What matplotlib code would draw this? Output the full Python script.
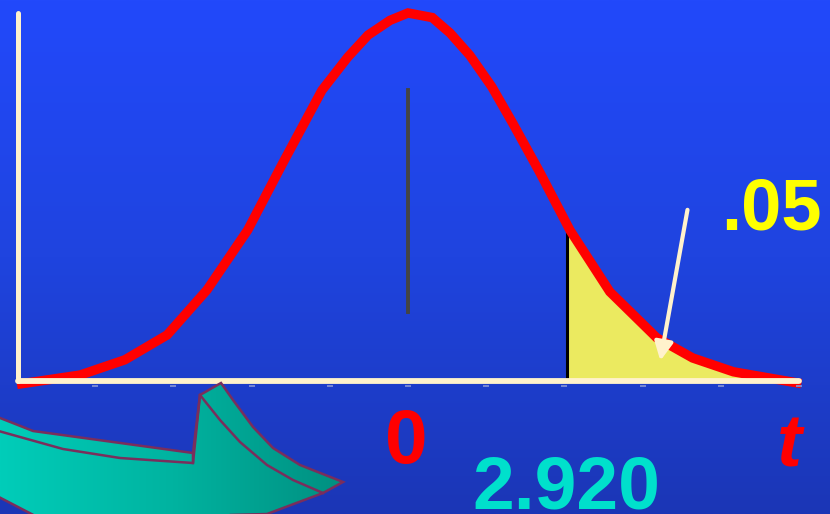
import numpy as np
import matplotlib.pyplot as plt
from matplotlib.patches import Polygon
from matplotlib.colors import LinearSegmentedColormap

plt.rcParams["font.family"] = ["Liberation Sans", "DejaVu Sans"]

# bell curve: t value and height
curve_t = [-4.94, -4.19, -3.62, -3.08, -2.57, -2.05, -1.60, -1.10, -0.77, -0.51, -0.23, 0.0,
           0.31, 0.54, 0.79, 1.07, 1.34, 1.69, 2.07, 2.58, 3.18, 3.64, 4.16, 4.97]
curve_h = [-0.003, 0.0065, 0.023, 0.050, 0.099, 0.164, 0.237, 0.316, 0.352, 0.376, 0.392, 0.400,
           0.395, 0.378, 0.354, 0.320, 0.280, 0.226, 0.164, 0.097, 0.047, 0.025, 0.010, -0.002]
cutoff_t = 2.03
tick_t = [-4, -3, -2, -1, 0, 1, 2, 3, 4, 5]
center_bar = [0.075, 0.316]

label_zero = "0"
label_crit = "2.920"
label_alpha = ".05"
label_t = "t"

# decorative block arrow at the bottom left (image pixels)
block_x = [-5, 33, 193, 200, 221, 233, 253, 273, 300, 343, 323, 267, 43, -5]
block_y = [416, 431, 453, 395, 383, 400, 427, 448, 465, 482, 493, 514, 520, 495]
block_lines = [
    ([-5, 63, 120, 193, 193], [430, 449, 458, 463, 453]),
    ([193, 200], [463, 395]),
    ([200, 220, 240, 267, 293, 323], [395, 420, 442, 465, 480, 493]),
]

W, H = 830, 514
fig = plt.figure(figsize=(W / 100, H / 100), dpi=100)
ax = fig.add_axes([0, 0, 1, 1])
x0, x1 = -5.217, 5.396
y0, y1 = -0.1446, 0.4141
ax.set_xlim(x0, x1)
ax.set_ylim(y0, y1)
ax.axis("off")

# background gradient
bg = LinearSegmentedColormap.from_list("bg", ["#1b36b6", "#1f44df", "#2249fb"])
grad = np.linspace(0, 1, 256).reshape(-1, 1)
ax.imshow(grad, cmap=bg, extent=(x0, x1, y0, y1), aspect="auto", origin="lower", zorder=0)

# shaded tail
ct = np.array(curve_t)
ch = np.array(curve_h)
cut_h = np.interp(cutoff_t, ct, ch)
mask = ct > cutoff_t
tail_t = np.concatenate([[cutoff_t], ct[mask]])
tail_h = np.concatenate([[cut_h], np.clip(ch[mask], 0, None)])
ax.fill_between(tail_t, 0, tail_h, color="#ebea60", lw=0, zorder=2)
ax.plot([cutoff_t, cutoff_t], [0, cut_h], color="black", lw=2.2, zorder=3)

ax.plot([0, 0], center_bar, color="#444444", lw=2.8, zorder=2)
ax.plot(ct, ch, color="#ff0000", lw=6.8, solid_joinstyle="miter", zorder=4)

# axes in cream
cream = "#fff2cc"
ax.plot([-4.99, -4.99], [0, 0.40], color=cream, lw=3.6, solid_capstyle="round", zorder=5)
ax.plot([-4.99, 5.0], [0, 0], color=cream, lw=4.2, solid_capstyle="round", zorder=5)
ax.plot(tick_t, [-0.0055] * len(tick_t), "_", ms=5, mew=1.3, color="#7f8fd6", zorder=5)

ax.annotate("", xy=(3.22, 0.019), xytext=(3.58, 0.189),
            arrowprops=dict(arrowstyle="-|>,head_length=1.1,head_width=0.55",
                            color=cream, lw=3), zorder=6)

ax.text(4.65, 0.1641, label_alpha, color="#ffff00", fontsize=52, fontweight="bold",
        ha="center", va="baseline", zorder=7)
ax.text(-0.02, -0.0891, label_zero, color="#ff0000", fontsize=55, fontweight="bold",
        ha="center", va="baseline", zorder=7)
ax.text(2.02, -0.1385, label_crit, color="#00e0cc", fontsize=54, fontweight="bold",
        ha="center", va="baseline", zorder=7)
ax.text(4.88, -0.0935, label_t, color="#ff0000", fontsize=54, fontweight="bold",
        style="italic", ha="center", va="baseline", zorder=7)

# decoration layer in pixel units
deco = fig.add_axes([0, 0, 1, 1])
deco.set_xlim(0, W)
deco.set_ylim(H, 0)
deco.axis("off")
deco.patch.set_alpha(0)
teal = LinearSegmentedColormap.from_list("teal", ["#00cdb9", "#00b3a0", "#008f80"])
poly = Polygon(list(zip(block_x, block_y)), closed=True, facecolor="none",
               edgecolor="#7a2e5c", lw=1.8, zorder=9)
deco.add_patch(poly)
img = deco.imshow(np.linspace(0, 1, 256).reshape(1, -1), cmap=teal,
                  extent=(0, 345, 520, 380), aspect="auto", zorder=8)
img.set_clip_path(poly)
for lx, ly in block_lines:
    deco.plot(lx, ly, color="#7a2e5c", lw=1.8, zorder=9)
deco.set_xlim(0, W)
deco.set_ylim(H, 0)

fig.savefig("out.png", dpi=100)
